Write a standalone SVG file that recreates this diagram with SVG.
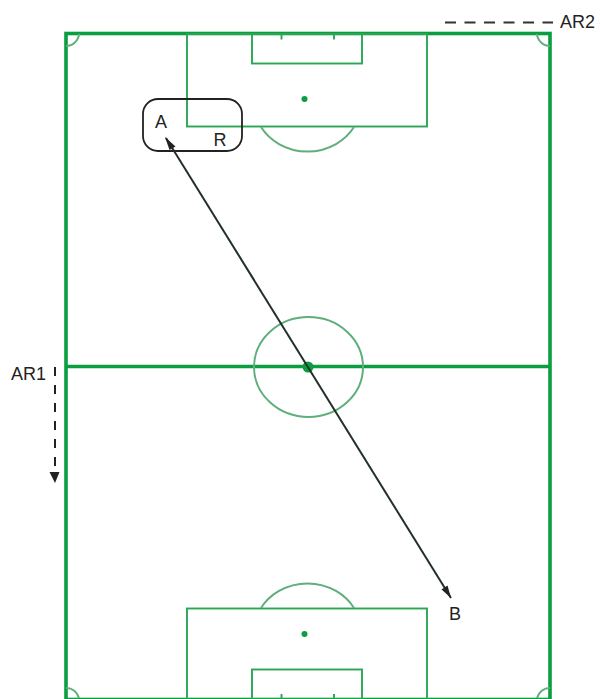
<svg xmlns="http://www.w3.org/2000/svg" width="600" height="699" viewBox="0 0 600 699">
<style>
.thick{fill:none;stroke:#0a9e40;stroke-width:3.6}
.thin{fill:none;stroke:#2aa655;stroke-width:1.9}
.arc{fill:none;stroke:#5fae7c;stroke-width:2}
.spot{fill:#0a9e40}
.lbl{font-family:"Liberation Sans",Arial,sans-serif;font-size:18px;fill:#222}
.conn{fill:none;stroke:#223028;stroke-width:2}
.dash1{fill:none;stroke:#222;stroke-width:2;stroke-dasharray:9 9}
.dash2{fill:none;stroke:#333;stroke-width:2;stroke-dasharray:11 8.500}
</style>
<g id="pitch">
<rect class="thick" x="66" y="33.500" width="484" height="666"/>
<line class="thick" x1="66" y1="366.500" x2="550" y2="366.500"/>
<ellipse class="arc" cx="308.500" cy="367" rx="54.500" ry="50"/>
<circle class="spot" cx="308" cy="367" r="5.500"/>
<path class="arc" d="M66,46A13,13 0 0 0 79,34"/>
<path class="arc" d="M550,46A13,13 0 0 1 537,34"/>
<path class="arc" d="M66,688A13,13 0 0 1 79,698"/>
<path class="arc" d="M550,688A13,13 0 0 0 537,698"/>
</g>
<g id="top-goal">
<rect class="thin" x="187" y="34" width="240" height="92.500"/>
<rect class="thin" x="252" y="34" width="110" height="29.500"/>
<path class="thin" d="M281.500,34V39.500M334,34V39.500"/>
<circle class="spot" cx="304.500" cy="99" r="3"/>
<path class="arc" d="M261,127A54,50 0 0 0 354,127"/>
</g>
<g id="bottom-goal">
<rect class="thin" x="187" y="608.500" width="240" height="92"/>
<rect class="thin" x="252" y="669.500" width="110" height="30"/>
<path class="thin" d="M281.500,694V699M334,694V699"/>
<circle class="spot" cx="304.500" cy="634" r="3"/>
<path class="arc" d="M261,608A54,50 0 0 1 354,608"/>
</g>
<g id="referee-zone">
<rect x="143" y="99" width="99" height="52" rx="15" ry="15" fill="none" stroke="#222" stroke-width="1.800"/>
<text class="lbl" x="161" y="128" text-anchor="middle">A</text>
<text class="lbl" x="220" y="146" text-anchor="middle">R</text>
</g>
<g id="connectors">
<line class="conn" x1="166" y1="138" x2="451" y2="598"/>
<path d="M165,137L175.500,146.500L169.500,150z" fill="#222"/>
<path d="M451,598L441.500,589.500L447.500,585.500z" fill="#222"/>
<line class="dash1" x1="55" y1="367" x2="55" y2="472"/>
<path d="M49.500,472H59.500L55,483z" fill="#222"/>
<line class="dash2" x1="445" y1="22.500" x2="553" y2="22.500"/>
</g>
<g id="labels">
<text class="lbl" x="11" y="380">AR1</text>
<text class="lbl" x="560" y="28">AR2</text>
<text class="lbl" x="455" y="620" text-anchor="middle">B</text>
</g>
</svg>
